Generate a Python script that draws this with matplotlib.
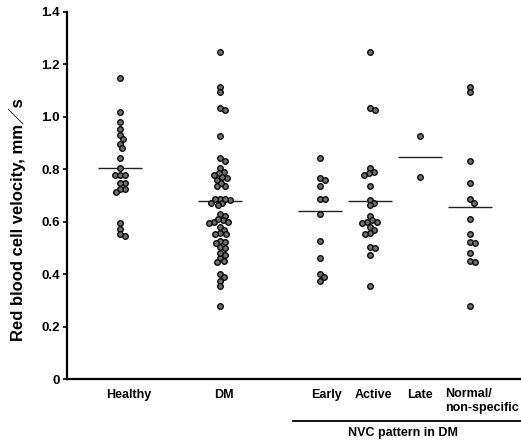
import numpy as np
import matplotlib
matplotlib.use("Agg")
import matplotlib.pyplot as plt

plt.rcParams['font.family'] = ['Liberation Sans', 'DejaVu Sans']
plt.rcParams['font.weight'] = 'bold'

# values (mm/s)
healthy = [1.15, 1.02, 0.98, 0.955, 0.93, 0.915, 0.897, 0.88, 0.842, 0.806,
           0.779, 0.779, 0.779, 0.749, 0.749, 0.724, 0.724, 0.715,
           0.595, 0.572, 0.552, 0.545]
early = [0.842, 0.765, 0.76, 0.738, 0.688, 0.685, 0.628, 0.528, 0.461,
         0.40, 0.388, 0.375]
active = [1.249, 1.035, 1.027, 0.804, 0.791, 0.785, 0.779, 0.737, 0.683,
          0.671, 0.664, 0.622, 0.605, 0.600, 0.598, 0.595, 0.581, 0.569,
          0.558, 0.552, 0.505, 0.500, 0.473, 0.355]
late = [0.927, 0.770]
normal = [1.115, 1.095, 0.833, 0.749, 0.686, 0.673, 0.611, 0.552, 0.522,
          0.518, 0.480, 0.450, 0.446, 0.279]
dm = early + active + late + normal   # DM column = all diabetic patients

groups = [healthy, dm, early, active, late, normal]
group_means = [0.806, 0.679, 0.639, 0.679, 0.847, 0.658]
positions = [0, 2, 4, 5, 6, 7]

tick_names = ["Healthy", "DM", "Early", "Active", "Late"]
tick_x = [0.18, 2.08, 4.13, 5.06, 6.0]
normal_label = "Normal/\nnon-specific"
yticks = [0, 0.2, 0.4, 0.6, 0.8, 1.0, 1.2, 1.4]
ytick_labels = ["0", "0.2", "0.4", "0.6", "0.8", "1.0", "1.2", "1.4"]


def swarm(vals, diam, px_per_val):
    """simple beeswarm, returns x offsets in pixels"""
    order = np.argsort(vals)[::-1]
    placed = []
    offs = np.zeros(len(vals))
    cands = [0.0]
    for k in range(1, 40):
        cands += [k * 0.5, -k * 0.5]
    for i in order:
        y = vals[i] * px_per_val
        for c in cands:
            ok = True
            for (px, py) in placed:
                if (px - c) ** 2 + (py - y) ** 2 < diam ** 2:
                    ok = False
                    break
            if ok:
                break
        offs[i] = c
        placed.append((c, y))
    return offs


fig = plt.figure(figsize=(5.21, 4.43), dpi=100)
ax = fig.add_axes((67 / 521, 64 / 443, 453 / 521, 367 / 443))
ax.set_xlim(-1.06, 8.0)
ax.set_ylim(0, 1.4)

px_per_x = 50.0
px_per_y = 367 / 1.4

for pos, vals, m in zip(positions, groups, group_means):
    vals = np.array(vals)
    offs = swarm(vals, 4.8, px_per_y)
    ax.scatter(pos + offs / px_per_x, vals, s=16, facecolor='#6f6f6f',
               edgecolor='#0a0a0a', linewidth=1.0, zorder=3, clip_on=False)
    ax.hlines(m, pos - 0.44, pos + 0.44, color='#222222', lw=1.0, zorder=2)

for side in ['top', 'right']:
    ax.spines[side].set_visible(False)
ax.spines['left'].set_linewidth(1.6)
ax.spines['bottom'].set_linewidth(1.6)

ax.set_yticks(yticks)
ax.set_yticklabels(ytick_labels, fontsize=9.5, fontweight='bold')
ax.tick_params(axis='y', direction='out', length=3, width=1.2, pad=2)
ax.set_xticks([])

trans = ax.get_xaxis_transform()
for name, xx in zip(tick_names, tick_x):
    ax.text(xx, -16 / 367, name, transform=trans, ha='center', va='center',
            fontsize=9, fontweight='bold')
ax.text(6.5, -9 / 367, normal_label, transform=trans, ha='left', va='top',
        fontsize=9, fontweight='bold', linespacing=1.25)

ax.plot([3.46, 8.1], [-42 / 367, -42 / 367], transform=trans, color='black',
        lw=1.3, clip_on=False)
ax.text(5.65, -54 / 367, "NVC pattern in DM", transform=trans, ha='center',
        va='center', fontsize=9, fontweight='bold')

fig.text(17 / 521, (443 - 219.5) / 443, "Red blood cell velocity, mm／s",
         rotation=90, ha='center', va='center', fontsize=12,
         fontweight='bold', family=['Liberation Sans', 'Noto Sans CJK JP'])

fig.savefig("out.png", dpi=100)
